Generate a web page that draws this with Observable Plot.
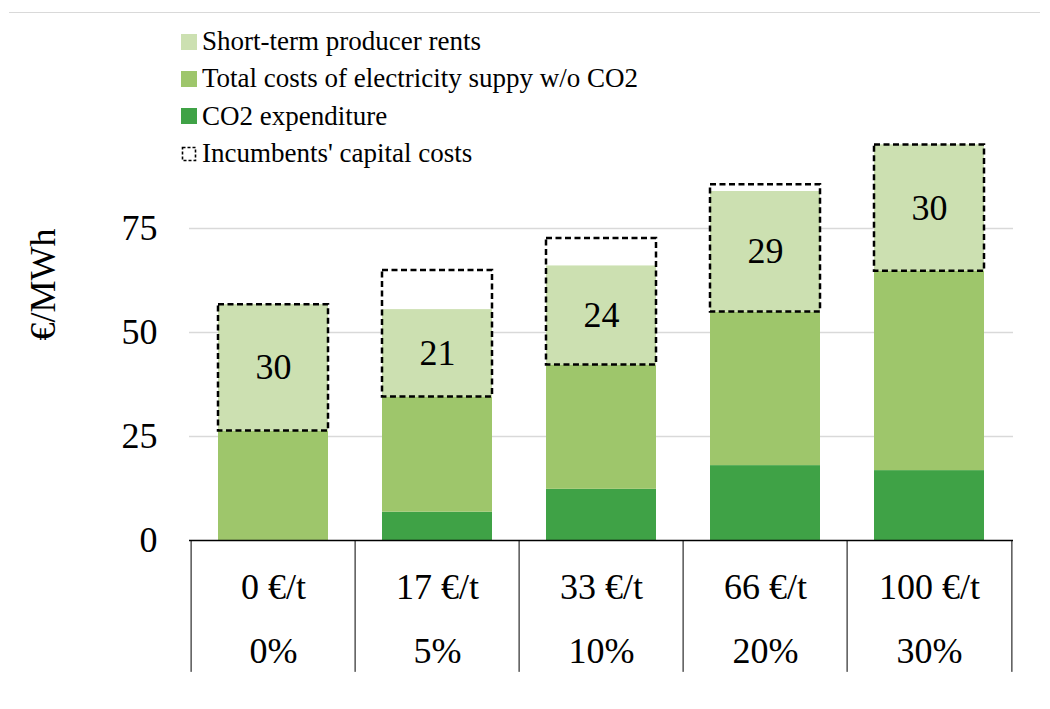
<!DOCTYPE html>
<html><head><meta charset="utf-8">
<script src="https://cdn.jsdelivr.net/npm/d3@7"></script>
<script src="https://cdn.jsdelivr.net/npm/@observablehq/plot@0.6"></script>
<style>
html,body{margin:0;padding:0;background:#fff;}
#wrap{position:relative;width:1050px;height:709px;font-family:"Liberation Serif","Times New Roman",serif;color:#000;}
#topline{position:absolute;left:9px;top:12px;width:1031px;height:1px;background:#d9d9d9;}
#legend{position:absolute;left:181px;top:23px;font-size:27px;line-height:1;font-family:"Liberation Serif",serif;}
.row{display:flex;align-items:center;height:37.3px;white-space:nowrap;}
.row span{font-family:"Liberation Serif",serif;}
.sw{width:16px;height:16px;margin-right:5px;flex:none;}
</style></head><body>
<div id="wrap"><div id="chart"></div><div id="topline"></div><div id="legend"></div></div>
<script>
// ---- data ----
const categories = ["0 €/t", "17 €/t", "33 €/t", "66 €/t", "100 €/t"];
const shares = ["0%", "5%", "10%", "20%", "30%"];
const co2 = [0, 6.8, 12.3, 18.0, 16.8];
const supply = [26.3, 27.7, 29.9, 36.9, 47.9];
const rents = [30.4, 21.0, 23.8, 29.0, 30.4];
const capital = [30.4, 30.4, 30.4, 30.6, 30.4];
const seriesNames = ["CO2 expenditure", "Total costs of electricity suppy w/o CO2", "Short-term producer rents"];
const seriesColors = ["#3fa246", "#9ec66b", "#cce0b1"];
const capitalName = "Incumbents' capital costs";
const yTicks = [0, 25, 50, 75];
const yLabel = "€/MWh";

// ---- derived tables ----
const stackRows = [];
categories.forEach((c, i) => {
  stackRows.push({cat: c, series: seriesNames[0], value: co2[i]});
  stackRows.push({cat: c, series: seriesNames[1], value: supply[i]});
  stackRows.push({cat: c, series: seriesNames[2], value: rents[i]});
});
const boxes = categories.map((c, i) => ({cat: c, y1: co2[i] + supply[i], y2: co2[i] + supply[i] + capital[i]}));
const labels = categories.map((c, i) => ({cat: c, y: co2[i] + supply[i] + rents[i] / 2, text: String(Math.round(rents[i]))}));

// ---- layout ----
const W = 1050, H = 709, mL = 189, mR = 37, mT = 124, mB = 169;
const step = (W - mL - mR) / categories.length;
const tableBottom = -31.7;

const chart = Plot.plot({
  width: W, height: H,
  marginLeft: mL, marginRight: mR, marginTop: mT, marginBottom: mB,
  style: {fontFamily: "Liberation Serif", fontSize: "36px", color: "#000", background: "#fff", overflow: "visible"},
  x: {domain: categories, paddingInner: 0.33, paddingOuter: 0.165},
  y: {domain: [0, 100]},
  color: {domain: seriesNames, range: seriesColors},
  marks: [
    Plot.ruleY(yTicks.filter(t => t > 0), {stroke: "#d9d9d9", strokeWidth: 1.3}),
    Plot.barY(stackRows, {x: "cat", y: "value", fill: "series", order: seriesNames}),
    Plot.barY(boxes, {x: "cat", y1: "y1", y2: "y2", fill: "none", stroke: "#000", strokeWidth: 2.5, strokeDasharray: "6,3.5"}),
    Plot.text(labels, {x: "cat", y: "y", text: "text", fontSize: 36, fill: "#000"}),
    Plot.ruleY([0], {stroke: "#000", strokeWidth: 1.3}),
    Plot.ruleX(categories, {x: d => d, dx: -step / 2, y1: 0, y2: tableBottom, stroke: "#000", strokeWidth: 1}),
    Plot.ruleX([categories[categories.length - 1]], {x: d => d, dx: step / 2, y1: 0, y2: tableBottom, stroke: "#000", strokeWidth: 1}),
    Plot.axisY({ticks: yTicks, tickSize: 0, tickPadding: 32, label: null, fontSize: 36, fill: "#000"}),
    Plot.axisX({tickSize: 0, tickPadding: 12, label: null, fontSize: 36, lineHeight: 1.8, fill: "#000",
      tickFormat: d => d + "\n" + shares[categories.indexOf(d)]}),
    Plot.text([yLabel], {text: d => d, frameAnchor: "left", rotate: -90, dx: -146, dy: 8, fontSize: 36, fill: "#000"})
  ]
});
document.getElementById("chart").appendChild(chart);

// ---- legend ----
const legend = document.getElementById("legend");
const legendOrder = [2, 1, 0];
legendOrder.forEach(k => {
  const row = document.createElement("div");
  row.className = "row";
  row.innerHTML = `<div class="sw" style="background:${seriesColors[k]}"></div><span>${seriesNames[k]}</span>`;
  legend.appendChild(row);
});
const row = document.createElement("div");
row.className = "row";
row.innerHTML = `<svg class="sw" width="16" height="16" viewBox="0 0 16 16"><rect x="1.5" y="1.5" width="13" height="13" fill="none" stroke="#000" stroke-width="1.6" stroke-dasharray="3,2"/></svg><span>${capitalName}</span>`;
legend.appendChild(row);
</script>
</body></html>
